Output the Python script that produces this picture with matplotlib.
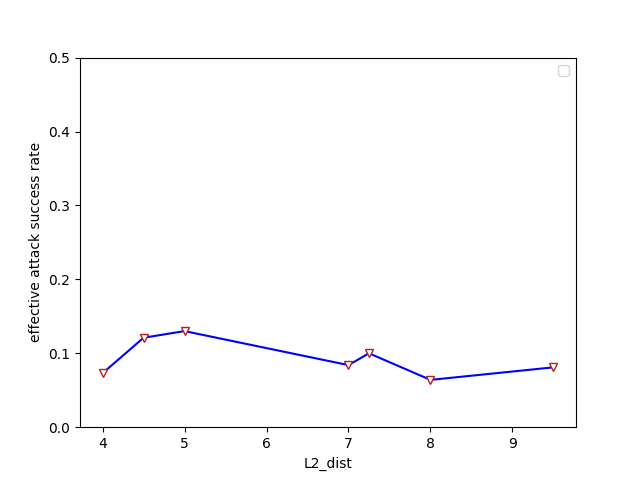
import matplotlib
matplotlib.use('Agg')
import matplotlib.pyplot as plt

# L2 distance vs. effective attack success rate
l2_dist = [4, 4.5, 5, 7, 7.25, 8, 9.5]
success_rate = [0.073, 0.121, 0.13, 0.084, 0.1, 0.064, 0.081]

fig, ax = plt.subplots(figsize=(6.4, 4.8), dpi=100)
ax.plot(l2_dist, success_rate, color='b', marker='v', markerfacecolor='white',
        markeredgecolor='firebrick', markersize=6)
ax.set_ylim(0, 0.5)
ax.set_xlabel('L2_dist')
ax.set_ylabel('effective attack success rate')
ax.legend()

fig.savefig('out.png')
